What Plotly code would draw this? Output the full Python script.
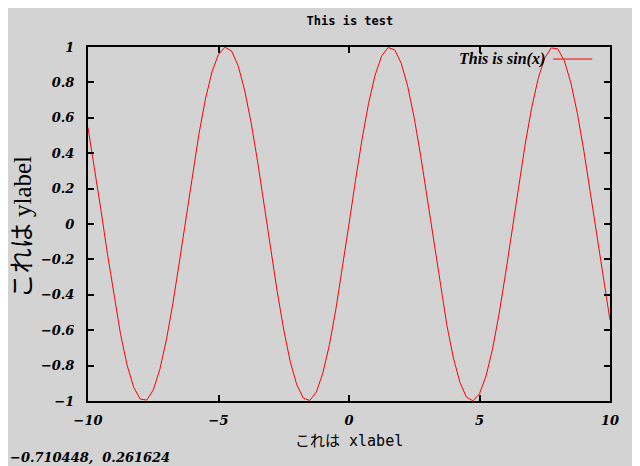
import plotly.graph_objects as go

# sin(x) samples
x_vals = [
    -10.0, -9.75, -9.5, -9.25, -9.0, -8.75, -8.5, -8.25, -8.0, -7.75,
    -7.5, -7.25, -7.0, -6.75, -6.5, -6.25, -6.0, -5.75, -5.5, -5.25,
    -5.0, -4.75, -4.5, -4.25, -4.0, -3.75, -3.5, -3.25, -3.0, -2.75,
    -2.5, -2.25, -2.0, -1.75, -1.5, -1.25, -1.0, -0.75, -0.5, -0.25,
    0.0, 0.25, 0.5, 0.75, 1.0, 1.25, 1.5, 1.75, 2.0, 2.25,
    2.5, 2.75, 3.0, 3.25, 3.5, 3.75, 4.0, 4.25, 4.5, 4.75,
    5.0, 5.25, 5.5, 5.75, 6.0, 6.25, 6.5, 6.75, 7.0, 7.25,
    7.5, 7.75, 8.0, 8.25, 8.5, 8.75, 9.0, 9.25, 9.5, 9.75, 10.0,
]
y_vals = [
    0.544, 0.319, 0.075, -0.173, -0.412, -0.625, -0.798, -0.922, -0.989, -0.995,
    -0.938, -0.823, -0.657, -0.451, -0.215, 0.033, 0.279, 0.508, 0.706, 0.859,
    0.959, 0.999, 0.978, 0.895, 0.757, 0.572, 0.351, 0.108, -0.141, -0.382,
    -0.598, -0.778, -0.909, -0.984, -0.997, -0.949, -0.841, -0.682, -0.479, -0.247,
    0.0, 0.247, 0.479, 0.682, 0.841, 0.949, 0.997, 0.984, 0.909, 0.778,
    0.598, 0.382, 0.141, -0.108, -0.351, -0.572, -0.757, -0.895, -0.978, -0.999,
    -0.959, -0.859, -0.706, -0.508, -0.279, -0.033, 0.215, 0.451, 0.657, 0.823,
    0.938, 0.995, 0.989, 0.922, 0.798, 0.625, 0.412, 0.173, -0.075, -0.319, -0.544,
]

title_text = "This is test"
legend_text = "This is sin(x)"
xlabel_text = "これは xlabel"
ylabel_text = "これは ylabel"
cursor_text = "−0.710448,  0.261624"

BG = "#d3d3d3"
tick_font = {"family": "DejaVu Serif", "size": 13, "color": "black",
             "weight": "bold", "style": "italic"}

fig = go.Figure()
fig.add_trace(
    go.Scatter(
        x=x_vals,
        y=y_vals,
        mode="lines",
        line={"color": "#ff0000", "width": 1},
        showlegend=False,
        hoverinfo="skip",
    )
)

axis_common = {
    "showgrid": False,
    "zeroline": False,
    "showline": True,
    "linecolor": "black",
    "linewidth": 2,
    "mirror": "ticks",
    "ticks": "inside",
    "ticklen": 6,
    "tickwidth": 2,
    "tickcolor": "black",
    "tickfont": tick_font,
}

fig.update_xaxes(range=[-10, 10], tick0=-10, dtick=5, ticklabelstandoff=6, **axis_common)
fig.update_yaxes(range=[-1, 1], tick0=-1, dtick=0.2, ticklabelstandoff=9, **axis_common)

# gnuplot-style key: text first, sample line after it
fig.add_annotation(
    xref="paper", yref="paper", x=0.879, y=0.966,
    xanchor="right", yanchor="middle", showarrow=False,
    text=legend_text,
    font={"family": "Liberation Serif", "size": 16, "color": "black",
          "weight": "bold", "style": "italic"},
)
fig.add_shape(
    type="line", xref="paper", yref="paper",
    x0=0.891, x1=0.966, y0=0.966, y1=0.966,
    line={"color": "#ff0000", "width": 1},
)

fig.add_annotation(
    xref="paper", yref="paper", x=0.5, y=-0.112,
    xanchor="center", yanchor="middle", showarrow=False,
    text=xlabel_text,
    font={"family": "DejaVu Sans Mono, Noto Sans CJK JP", "size": 15, "color": "black"},
)
fig.add_annotation(
    xref="paper", yref="paper", x=-0.125, y=0.49,
    xanchor="center", yanchor="middle", showarrow=False, textangle=-90,
    text=ylabel_text,
    font={"family": "Liberation Serif, Noto Sans CJK JP", "size": 25, "color": "black"},
)
fig.add_annotation(
    xref="paper", yref="paper", x=-0.1533, y=-0.161,
    xanchor="left", yanchor="middle", showarrow=False,
    text=cursor_text,
    font=tick_font,
)

# page adds an 8px body margin, so the figure is drawn 8px smaller
fig.update_layout(
    width=632,
    height=458,
    paper_bgcolor=BG,
    plot_bgcolor=BG,
    margin={"l": 80, "r": 30, "t": 39, "b": 65},
    title={
        "text": title_text,
        "x": 0.541, "xanchor": "center",
        "y": 0.972, "yanchor": "middle",
        "font": {"family": "DejaVu Sans Mono", "size": 12, "color": "black", "weight": "bold"},
    },
)

fig.write_html("out.html")
